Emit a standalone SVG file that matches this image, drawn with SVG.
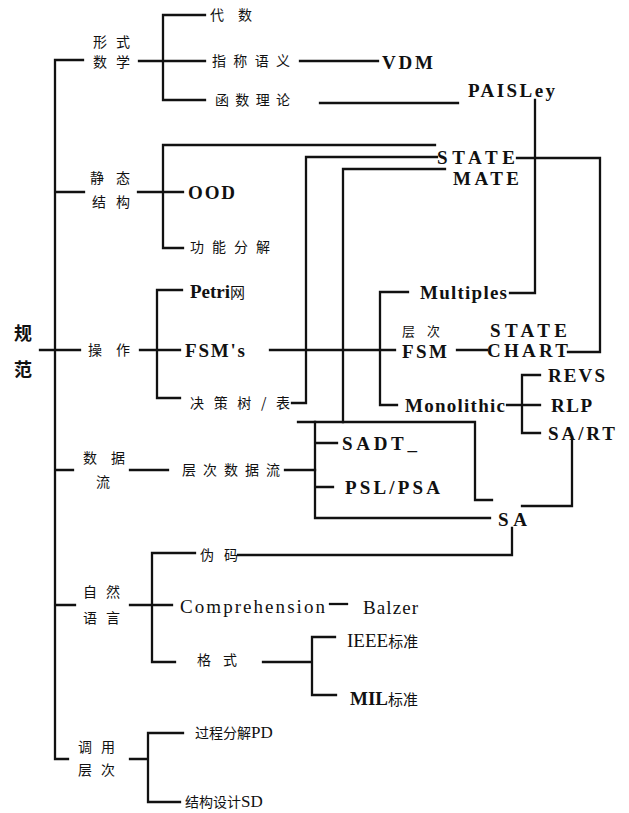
<svg xmlns="http://www.w3.org/2000/svg" width="629" height="813" viewBox="0 0 629 813">
<style>
.zh{font-family:"Noto Sans CJK SC","Noto Sans",sans-serif;font-size:14px;fill:#111}
.en{font-family:"Liberation Serif",serif;font-weight:bold;font-size:19px;fill:#111}
.rg{font-family:"Liberation Serif",serif;font-weight:normal;font-size:19px;fill:#111}
.ln{fill:none;stroke:#111;stroke-width:2.3;stroke-linejoin:miter;stroke-linecap:square}
</style>
<rect width="629" height="813" fill="#fff"/>
<g id="connectors" class="ln">
<path d="M55,60 V759 M55,60 H83 M55,192 H84 M40,350 H80 M55,470 H73 M55,605 H75 M55,759 H68"/>
<path d="M139,61 H205 M205,15 H163 V100 H205"/>
<path d="M300,61 H378"/>
<path d="M320,103 H458"/>
<path d="M535,100 V293 H510"/>
<path d="M138,192 H183 M435,145 H163 V248 H183"/>
<path d="M437,157 H306 V403 H292"/>
<path d="M445,169 H343 V422"/>
<path d="M568,352 H600 V158 H517"/>
<path d="M140,350 H180 M182,290 H157 V398 H180"/>
<path d="M270,350 H395"/>
<path d="M408,292 H380 V405 H397"/>
<path d="M457,350 H487"/>
<path d="M507,405 H540 M540,375 H522 V433 H540"/>
<path d="M572,437 V506 H522"/>
<path d="M130,470 H168 M285,470 H315"/>
<path d="M298,422 H475 V500 H492"/>
<path d="M337,443 H315 V518 H490 M333,487 H315 M315,518 V422"/>
<path d="M238,555 H512 V528"/>
<path d="M130,605 H172 M195,553 H152 V662 H175"/>
<path d="M330,604 H347"/>
<path d="M263,662 H312 M335,637 H312 V695 H336"/>
<path d="M130,759 H148 M183,733 H148 V802 H180"/>
</g>
<g id="n-root"><text class="zh" x="14" y="340" style="font-size:18px;font-weight:bold">规</text><text class="zh" x="14" y="376" style="font-size:18px;font-weight:bold">范</text></g>
<g id="n-xingshi"><text class="zh" x="93" y="47" textLength="37">形式</text><text class="zh" x="93" y="67" textLength="37">数学</text></g>
<g id="n-daishu"><text class="zh" x="210" y="20" textLength="42">代数</text></g>
<g id="n-zhicheng"><text class="zh" x="212" y="66" textLength="78">指称语义</text></g>
<g id="n-vdm"><text class="en" x="382" y="69" textLength="51">VDM</text></g>
<g id="n-hanshu"><text class="zh" x="215" y="105" textLength="75">函数理论</text></g>
<g id="n-paisley"><text class="en" x="468" y="97" textLength="87">PAISLey</text></g>
<g id="n-jingtai"><text class="zh" x="90" y="183" textLength="40">静态</text><text class="zh" x="92" y="207" textLength="38">结构</text></g>
<g id="n-statemate"><text class="en" x="437" y="164" textLength="78">STATE</text><text class="en" x="453" y="185" textLength="66">MATE</text></g>
<g id="n-ood"><text class="en" x="188" y="199" textLength="47">OOD</text></g>
<g id="n-gongneng"><text class="zh" x="190" y="252" textLength="80">功能分解</text></g>
<g id="n-caozuo"><text class="zh" x="88" y="355" textLength="42">操作</text></g>
<g id="n-petri"><text class="en" x="190" y="298">Petri<tspan style="font-family:'Noto Sans CJK SC',sans-serif;font-size:15px;font-weight:normal">网</tspan></text></g>
<g id="n-fsms"><text class="en" x="185" y="357" textLength="60">FSM's</text></g>
<g id="n-juece"><text class="zh" x="190" y="408" textLength="100">决策树/表</text></g>
<g id="n-multiples"><text class="en" x="420" y="299" textLength="87">Multiples</text></g>
<g id="n-cengcifsm"><text class="zh" x="402" y="336" textLength="38" style="font-size:13px">层次</text><text class="en" x="402" y="358" textLength="45">FSM</text></g>
<g id="n-statechart"><text class="en" x="490" y="337" textLength="77">STATE</text><text class="en" x="487" y="357" textLength="81">CHART</text></g>
<g id="n-monolithic"><text class="en" x="405" y="412" textLength="100">Monolithic</text></g>
<g id="n-revs"><text class="en" x="548" y="382" textLength="57">REVS</text></g>
<g id="n-rlp"><text class="en" x="551" y="412" textLength="41">RLP</text></g>
<g id="n-sart"><text class="en" x="548" y="440" textLength="67">SA/RT</text></g>
<g id="n-shujuliu"><text class="zh" x="83" y="463" textLength="42">数据</text><text class="zh" x="96" y="487">流</text></g>
<g id="n-cengcishuju"><text class="zh" x="182" y="475" textLength="98">层次数据流</text></g>
<g id="n-sadt"><text class="en" x="342" y="450" textLength="75">SADT_</text></g>
<g id="n-pslpsa"><text class="en" x="345" y="494" textLength="95">PSL/PSA</text></g>
<g id="n-sa"><text class="en" x="498" y="526" textLength="29">SA</text></g>
<g id="n-ziran"><text class="zh" x="83" y="597" textLength="37">自然</text><text class="zh" x="83" y="623" textLength="37">语言</text></g>
<g id="n-weima"><text class="zh" x="200" y="560" textLength="38">伪码</text></g>
<g id="n-comprehension"><text class="rg" x="180" y="613" textLength="145">Comprehension</text></g>
<g id="n-balzer"><text class="rg" x="363" y="614" textLength="55">Balzer</text></g>
<g id="n-geshi"><text class="zh" x="197" y="665" textLength="40">格式</text></g>
<g id="n-ieee"><text class="rg" x="347" y="647">IEEE<tspan style="font-family:'Noto Sans CJK SC',sans-serif;font-size:15px">标准</tspan></text></g>
<g id="n-mil"><text class="en" x="350" y="705">MIL<tspan style="font-family:'Noto Sans CJK SC',sans-serif;font-size:15px;font-weight:normal">标准</tspan></text></g>
<g id="n-diaoyong"><text class="zh" x="78" y="752" textLength="37">调用</text><text class="zh" x="78" y="775" textLength="37">层次</text></g>
<g id="n-pd"><text class="zh" x="195" y="738">过程分解<tspan style="font-family:'Liberation Serif',serif;font-size:17px">PD</tspan></text></g>
<g id="n-sd"><text class="zh" x="185" y="807">结构设计<tspan style="font-family:'Liberation Serif',serif;font-size:17px">SD</tspan></text></g>
</svg>
